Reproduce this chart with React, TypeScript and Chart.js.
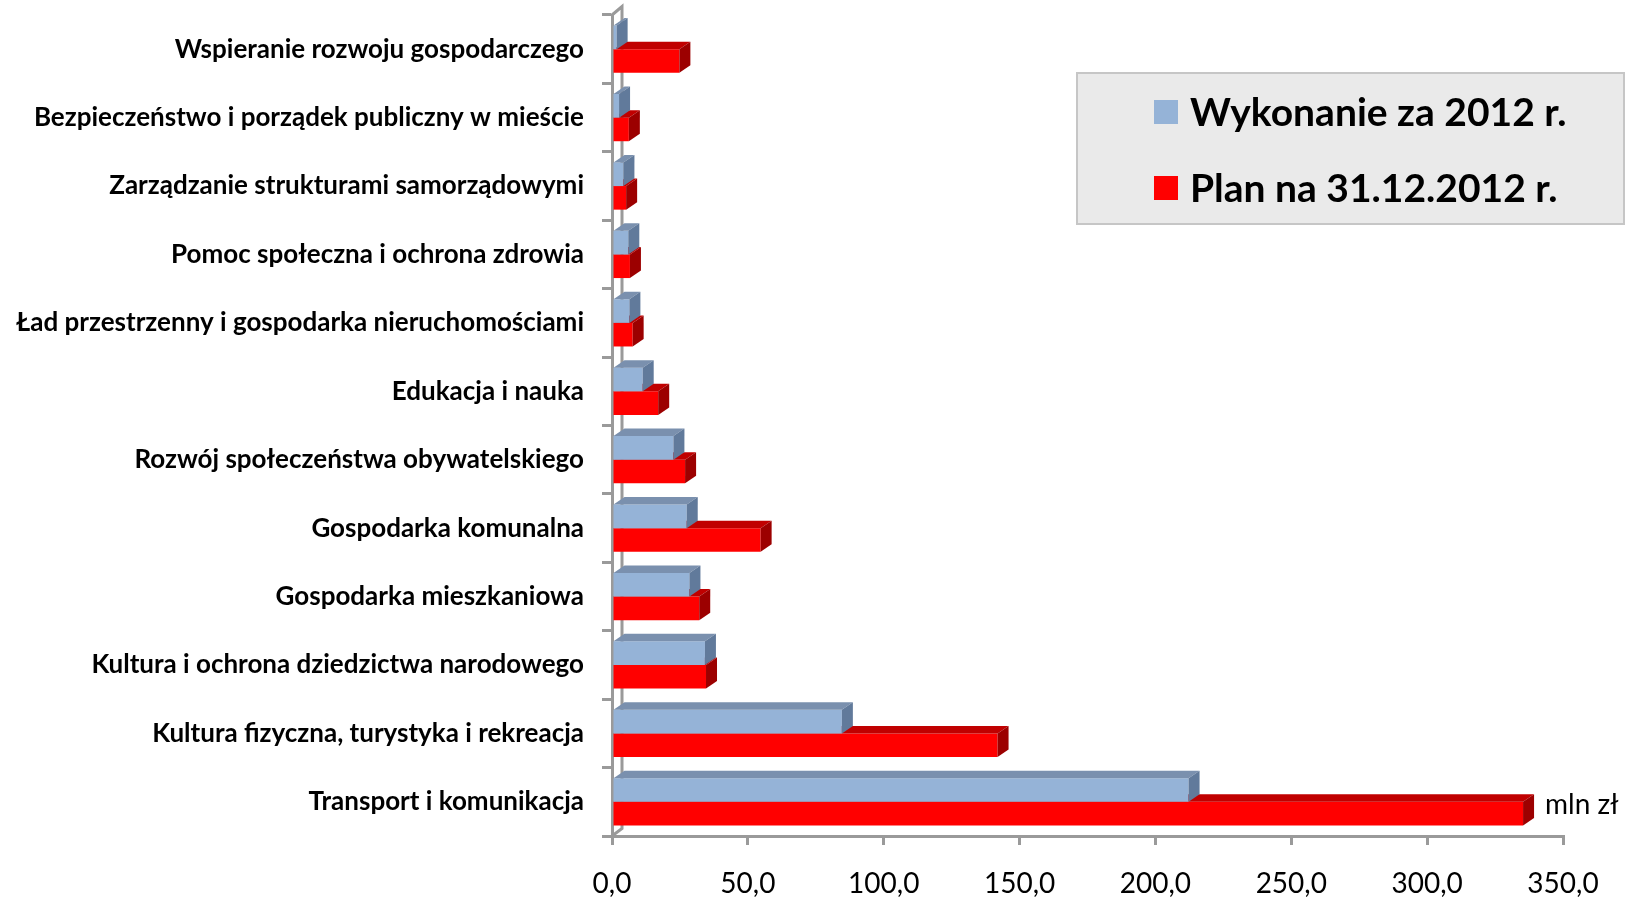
import React, { useEffect, useRef } from "react";
import { Chart, registerables } from "chart.js";

Chart.register(...registerables);

const categories = [
  "Wspieranie rozwoju gospodarczego",
  "Bezpieczeństwo i porządek publiczny w mieście",
  "Zarządzanie strukturami samorządowymi",
  "Pomoc społeczna i ochrona zdrowia",
  "Ład przestrzenny i gospodarka nieruchomościami",
  "Edukacja i nauka",
  "Rozwój społeczeństwa obywatelskiego",
  "Gospodarka komunalna",
  "Gospodarka mieszkaniowa",
  "Kultura i ochrona dziedzictwa narodowego",
  "Kultura fizyczna, turystyka i rekreacja",
  "Transport i komunikacja",
];

const wykonanie = [1.7, 2.6, 4.2, 6.0, 6.4, 11.3, 22.6, 27.5, 28.5, 34.2, 84.6, 212.2];
const plan = [24.8, 6.2, 5.2, 6.6, 7.6, 17.0, 26.9, 54.7, 32.1, 34.6, 141.9, 335.3];

const seriesLabels = ["Wykonanie za 2012 r.", "Plan na 31.12.2012 r."];
const axisMin = 0;
const axisMax = 350;
const axisStep = 50;
const unitLabel = "mln zł";

const W = 1631;
const H = 902;
const DX = 11;
const DY = 7.5;

const faceColors = [
  { front: "#95B3D7", top: "#7A90AE", side: "#617A9B" },
  { front: "#FF0000", top: "#C00000", side: "#9C0000" },
];

const axisGray = "#9A9A9A";

const bar3d = {
  id: "bar3d",
  beforeDatasetsDraw(chart: any) {
    const { ctx, chartArea } = chart;
    const l = chartArea.left;
    const t = chartArea.top;
    const b = chartArea.bottom;
    ctx.save();
    ctx.strokeStyle = axisGray;
    ctx.lineWidth = 3;
    ctx.beginPath();
    ctx.moveTo(l, t);
    ctx.lineTo(l + DX - 1, t - DY - 1);
    ctx.lineTo(l + DX - 1, b - DY);
    ctx.lineTo(l, b);
    ctx.stroke();
    ctx.restore();
  },
  afterDatasetDraw(chart: any, args: any) {
    const { ctx } = chart;
    const c = faceColors[args.index];
    ctx.save();
    args.meta.data.forEach((bar: any) => {
      const p = bar.getProps(["x", "y", "base", "height"], true);
      const top = p.y - p.height / 2;
      const bottom = p.y + p.height / 2;
      const left = p.base;
      const right = p.x;
      ctx.fillStyle = c.top;
      ctx.beginPath();
      ctx.moveTo(left, top);
      ctx.lineTo(left + DX, top - DY);
      ctx.lineTo(right + DX, top - DY);
      ctx.lineTo(right, top);
      ctx.closePath();
      ctx.fill();
      ctx.fillStyle = c.side;
      ctx.beginPath();
      ctx.moveTo(right, top);
      ctx.lineTo(right + DX, top - DY);
      ctx.lineTo(right + DX, bottom - DY);
      ctx.lineTo(right, bottom);
      ctx.closePath();
      ctx.fill();
    });
    ctx.restore();
  },
};

const legendBox = {
  id: "legendBox",
  afterDraw(chart: any) {
    const { ctx, chartArea } = chart;
    ctx.save();
    const bx = 1077, by = 73, bw = 547, bh = 151;
    ctx.fillStyle = "#EAEAEA";
    ctx.fillRect(bx, by, bw, bh);
    ctx.strokeStyle = "#C6C6C6";
    ctx.lineWidth = 2;
    ctx.strokeRect(bx, by, bw, bh);
    ctx.font = "bold 39px Lato";
    ctx.textBaseline = "middle";
    ctx.textAlign = "left";
    chart.data.datasets.forEach((ds: any, i: number) => {
      const cy = 112 + i * 76;
      ctx.fillStyle = ds.backgroundColor;
      ctx.fillRect(1154, cy - 12, 24, 24);
      ctx.fillStyle = "#000";
      ctx.fillText(ds.label, 1190, cy + 1);
    });
    ctx.font = "28px Lato";
    ctx.fillStyle = "#000";
    ctx.fillText(unitLabel, chartArea.right - 18, 805);
    ctx.restore();
  },
};

export default function App() {
  const ref = useRef<HTMLCanvasElement | null>(null);
  useEffect(() => {
    document.body.style.margin = "0";
    let chart: Chart | null = null;
    let cancelled = false;
    const fontsReady = (document as any).fonts
      ? Promise.all([
          (document as any).fonts.load("bold 26px Lato"),
          (document as any).fonts.load("28px Lato"),
          (document as any).fonts.load("bold 39px Lato"),
        ]).catch(() => null)
      : Promise.resolve(null);
    fontsReady.then(() => {
      if (cancelled || !ref.current) return;
      chart = new Chart(ref.current, {
        type: "bar",
        data: {
          labels: categories,
          datasets: [
            {
              label: seriesLabels[0],
              data: wykonanie,
              backgroundColor: faceColors[0].front,
              borderWidth: 0,
            },
            {
              label: seriesLabels[1],
              data: plan,
              backgroundColor: faceColors[1].front,
              borderWidth: 0,
            },
          ],
        },
        plugins: [bar3d, legendBox],
        options: {
          indexAxis: "y",
          animation: false,
          responsive: false,
          devicePixelRatio: 1,
          layout: { padding: { top: 15, right: 68, left: 0, bottom: 0 } },
          datasets: {
            bar: { categoryPercentage: 0.69, barPercentage: 1.0 },
          },
          plugins: {
            legend: { display: false },
            tooltip: { enabled: false },
          },
          scales: {
            y: {
              type: "category",
              afterFit(scale: any) {
                scale.width = 612;
                scale.paddingTop = 0;
                scale.paddingBottom = 0;
              },
              border: { display: true, color: axisGray, width: 3 },
              grid: {
                display: true,
                drawOnChartArea: false,
                drawTicks: true,
                tickLength: 10,
                color: axisGray,
                lineWidth: 3,
                offset: true,
              },
              ticks: {
                color: "#000",
                padding: 18,
                font: { family: "Lato", size: 26, weight: "bold" },
                autoSkip: false,
              },
            },
            x: {
              type: "linear",
              min: axisMin,
              max: axisMax,
              afterFit(scale: any) {
                scale.height = 66;
              },
              border: { display: true, color: axisGray, width: 3 },
              grid: {
                display: true,
                drawOnChartArea: false,
                drawTicks: true,
                tickLength: 9,
                color: axisGray,
                lineWidth: 3,
              },
              ticks: {
                stepSize: axisStep,
                color: "#000",
                padding: 22,
                maxRotation: 0,
                font: { family: "Lato", size: 28 },
                callback: (v: any) => Number(v).toFixed(1).replace(".", ","),
              },
            },
          },
        },
      });
    });
    return () => {
      cancelled = true;
      if (chart) chart.destroy();
    };
  }, []);
  return (
    <div style={{ position: "fixed", left: 0, top: 0, width: W, height: H, background: "#fff" }}>
      <canvas ref={ref} width={W} height={H} style={{ width: W, height: H, display: "block" }} />
    </div>
  );
}
